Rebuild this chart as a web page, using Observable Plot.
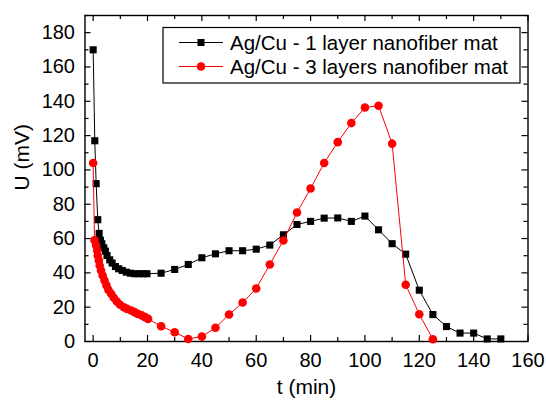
<!DOCTYPE html>
<html>
<head>
<meta charset="utf-8">
<script src="https://cdn.jsdelivr.net/npm/d3@7"></script>
<script src="https://cdn.jsdelivr.net/npm/@observablehq/plot@0.6"></script>
<style>
  html, body { margin: 0; padding: 0; background: white; }
</style>
</head>
<body>
<div id="chart"></div>
<script>
// Series 1: Ag/Cu - 1 layer nanofiber mat
const t1 = [0, 0.6, 1.1, 1.7, 2.2, 2.7, 3.2, 3.9, 4.5, 5.1, 6.1, 7, 8.2, 9.4, 10.7, 12.2, 13.7, 15.3, 16.8, 18.4, 19.8, 25, 30, 35, 40, 45, 50, 55, 60, 65, 70, 75, 80, 85, 90, 95, 100, 105, 110, 115, 120, 125, 130, 135, 140, 145, 150];
const u1 = [170, 117, 92, 71, 63, 59, 57, 54.6, 52.7, 50.1, 47.6, 45.7, 43.7, 42.4, 41.4, 40.4, 39.8, 39.5, 39.5, 39.5, 39.5, 39.8, 42, 44.9, 48.8, 51.1, 52.9, 52.9, 53.8, 56.2, 62.2, 68.2, 70, 71.9, 72, 70, 73.1, 65.1, 57, 50.9, 29.9, 15.7, 8.7, 4.9, 4.9, 1.5, 1.5];
// Series 2: Ag/Cu - 3 layers nanofiber mat
const t3 = [0, 0.5, 1.1, 1.5, 1.7, 2.1, 2.4, 2.9, 3.5, 4.2, 4.9, 5.6, 6.6, 7.6, 8.7, 9.9, 11.3, 12.5, 14, 15.2, 16.4, 17.9, 19.1, 20.2, 25, 30, 35, 40, 45, 50, 55, 60, 65, 70, 75, 80, 85, 90, 95, 100, 105, 110, 115, 120, 125];
const u3 = [104, 59, 56, 53, 50, 47.2, 44.3, 41.4, 38.5, 35.6, 32.7, 30.1, 27.8, 25.5, 23.3, 21.4, 20, 19, 18.1, 17.1, 16.1, 15.2, 14.2, 13.2, 8.9, 5.4, 1.5, 2.9, 8, 15.7, 22.7, 30.9, 44.9, 58.9, 75.2, 89.2, 104, 116.2, 127.3, 136.4, 137.4, 115.3, 33.1, 15.9, 1.3];

const seriesNames = ["Ag/Cu - 1 layer nanofiber mat", "Ag/Cu - 3 layers nanofiber mat"];
const seriesColors = ["#000000", "#ff0000"];
const xMajor = [0, 20, 40, 60, 80, 100, 120, 140, 160];
const xMinor = [10, 30, 50, 70, 90, 110, 130, 150];
const yMajor = [0, 20, 40, 60, 80, 100, 120, 140, 160, 180];
const yMinor = [10, 30, 50, 70, 90, 110, 130, 150, 170, 190];
const xLabel = "t (min)";
const yLabel = "U (mV)";

const data1 = t1.map((t, i) => ({t, u: u1[i]}));
const data3 = t3.map((t, i) => ({t, u: u3[i]}));

const W = 546, H = 403;
const mL = 84.5, mR = 18.5, mT = 15, mB = 62;
const innerW = W - mL - mR, innerH = H - mT - mB;
const maj = 6, mnr = 4;

const chart = Plot.plot({
  width: W, height: H,
  marginLeft: mL, marginRight: mR, marginTop: mT, marginBottom: mB,
  x: {domain: [-3, 160]},
  y: {domain: [0, 190]},
  style: {fontFamily: "'Liberation Sans', Arial, sans-serif", fontSize: "20px", color: "black", background: "white", overflow: "visible"},
  marks: [
    Plot.axisX({ticks: xMajor, tickSize: 0, tickPadding: 11, label: null, tickFormat: d => String(d)}),
    Plot.axisY({ticks: yMajor, tickSize: 0, tickPadding: 10, label: null, tickFormat: d => String(d)}),
    // inward ticks on all four sides
    Plot.ruleX(xMajor, {x: d => d, insetTop: innerH - maj, stroke: "black", strokeWidth: 1.2}),
    Plot.ruleX(xMinor, {x: d => d, insetTop: innerH - mnr, stroke: "black", strokeWidth: 1.2}),
    Plot.ruleX(xMajor, {x: d => d, insetBottom: innerH - maj, stroke: "black", strokeWidth: 1.2}),
    Plot.ruleX(xMinor, {x: d => d, insetBottom: innerH - mnr, stroke: "black", strokeWidth: 1.2}),
    Plot.ruleY(yMajor, {y: d => d, insetRight: innerW - maj, stroke: "black", strokeWidth: 1.2}),
    Plot.ruleY(yMinor, {y: d => d, insetRight: innerW - mnr, stroke: "black", strokeWidth: 1.2}),
    Plot.ruleY(yMajor, {y: d => d, insetLeft: innerW - maj, stroke: "black", strokeWidth: 1.2}),
    Plot.ruleY(yMinor, {y: d => d, insetLeft: innerW - mnr, stroke: "black", strokeWidth: 1.2}),
    Plot.frame({stroke: "black", strokeWidth: 1.4}),
    // series
    Plot.line(data1, {x: "t", y: "u", stroke: seriesColors[0], strokeWidth: 1}),
    Plot.dot(data1, {x: "t", y: "u", symbol: "square", r: 4, fill: seriesColors[0], stroke: "none"}),
    Plot.line(data3, {x: "t", y: "u", stroke: seriesColors[1], strokeWidth: 1}),
    Plot.dot(data3, {x: "t", y: "u", symbol: "circle", r: 4.3, fill: seriesColors[1], stroke: "none"}),
    // axis titles
    Plot.text([xLabel], {text: d => d, frameAnchor: "bottom", dy: 46, fontSize: 21, lineAnchor: "middle"}),
    Plot.text([yLabel], {text: d => d, frameAnchor: "left", dx: -63, dy: 12, rotate: -90, fontSize: 21, lineAnchor: "middle"})
  ]
});

document.getElementById("chart").appendChild(chart);

// Legend box (drawn inside the SVG)
const svg = d3.select(chart);
const lg = svg.append("g").attr("class", "legend").attr("text-anchor", "start");
lg.append("rect")
  .attr("x", 163).attr("y", 27.5).attr("width", 357).attr("height", 55.5)
  .attr("fill", "white").attr("stroke", "black").attr("stroke-width", 1.2);
const rowsY = [42.5, 66.5];
seriesNames.forEach((name, i) => {
  const y = rowsY[i];
  lg.append("line").attr("x1", 179).attr("x2", 223).attr("y1", y).attr("y2", y)
    .attr("stroke", seriesColors[i]).attr("stroke-width", 1);
  if (i === 0) {
    lg.append("rect").attr("x", 201 - 3.5).attr("y", y - 3.5).attr("width", 7).attr("height", 7)
      .attr("fill", seriesColors[i]);
  } else {
    lg.append("circle").attr("cx", 201).attr("cy", y).attr("r", 4.3).attr("fill", seriesColors[i]);
  }
  lg.append("text").attr("x", 230).attr("y", y).attr("dy", "0.35em")
    .attr("text-anchor", "start")
    .attr("font-size", 20.5).attr("fill", "black").text(name);
});
</script>
</body>
</html>
